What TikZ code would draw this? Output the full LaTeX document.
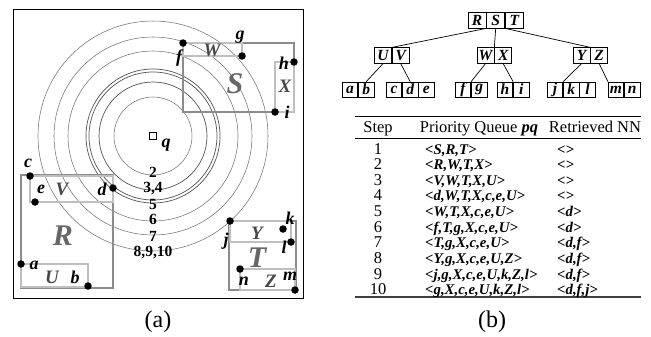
\documentclass[tikz,border=0pt]{standalone}
\usepackage{fontspec}
\setmainfont{Liberation Serif}
\usetikzlibrary{positioning}
\colorlet{mbr colour}{black!45}
\colorlet{leaf colour}{black!25}
\colorlet{ring colour}{black!55}
\colorlet{entry colour}{black!72}
\tikzset{
    % Shapes of the data space
    frame/.style={draw, line width=0.8bp},
    mbr/.style={draw=mbr colour, line width=1.2bp},
    leaf mbr/.style={draw=leaf colour, line width=1.7bp},
    ring/.style={draw=ring colour, line width=0.55bp},
    dark ring/.style={draw=black!68, line width=0.7bp},
    point/.style={fill, circle, inner sep=0pt, minimum size=7.5bp},
    query/.style={
        draw, rectangle, inner sep=0pt, minimum size=6.5bp, line width=0.6bp},
%
    % Text in the data space
    point label/.style={
        inner sep=0pt, font=\fontsize{18bp}{18bp}\selectfont\bfseries\itshape},
    entry label/.style={
        inner sep=0pt, text=entry colour,
        font=\fontsize{19bp}{19bp}\selectfont\bfseries\itshape},
    node label/.style={
        inner sep=0pt, text=black!60,
        font=\fontsize{30bp}{30bp}\selectfont\bfseries\itshape},
    radius label/.style={
        inner sep=0pt, font=\fontsize{15.5bp}{15.5bp}\selectfont\bfseries},
%
    % The R-tree
    cell/.style={
        draw, rectangle, line width=0.7bp, inner sep=0pt,
        minimum width=18bp, minimum height=16bp,
        font=\fontsize{15.5bp}{15.5bp}\selectfont\bfseries\itshape},
    inner cell/.style={cell, minimum width=17bp, minimum height=15.5bp},
    leaf cell/.style={cell, minimum width=15.5bp, minimum height=15bp},
    branch/.style={draw, line width=0.7bp},
%
    % The table
    table text/.style={
        inner sep=0pt, anchor=base, font=\fontsize{16.5bp}{16.5bp}\selectfont},
    queue text/.style={
        table text, anchor=base west,
        font=\fontsize{14.8bp}{14.8bp}\selectfont\bfseries\itshape},
    caption/.style={font=\fontsize{24bp}{24bp}\selectfont},
}

\begin{document}
\begin{tikzpicture}[x=1bp, y=-1bp]
\useasboundingbox (0,0) rectangle (651,336);

% (a) the data space
\draw [frame] (13,9) rectangle (303,298);
\node [query] (q) at (153,136) {};
\node [point label] (lbl q) at (166,145) {q};

\draw [ring] (q) circle [radius=39];
\draw [dark ring] (q) circle [radius=54];
\draw [dark ring] (q) circle [radius=64];
\draw [dark ring] (q) circle [radius=67];
\draw [ring] (q) circle [radius=85];
\draw [ring] (q) circle [radius=99];
\draw [ring] (q) circle [radius=115];

\path
    (153,172.5) node [radius label] (dist 2) {2}
    (153,189) node [radius label] (dist 34) {3,4}
    (153,204) node [radius label] (dist 5) {5}
    (153,219.5) node [radius label] (dist 6) {6}
    (153,236) node [radius label] (dist 7) {7}
    (153,253) node [radius label] (dist 8910) {8,9,10};

% node S with entries W and X
\draw [mbr] (183,43) rectangle (294,112);
\draw [leaf mbr] (183,43) rectangle (242,56);
\draw [leaf mbr] (275,62) rectangle (294,112);
\path
    (183,43) node [point] (pt f) {}
    (242,56) node [point] (pt g) {}
    (294,62) node [point] (pt h) {}
    (275,112) node [point] (pt i) {}
    (179,58) node [point label] (lbl f) {f}
    (240,37) node [point label] (lbl g) {g}
    (284,63) node [point label] (lbl h) {h}
    (287,112) node [point label] (lbl i) {i}
    (212,50) node [entry label] (lbl W) {W}
    (285,86) node [entry label] (lbl X) {X}
    (235,84) node [node label] (lbl S) {S};

% node R with entries U and V
\draw [mbr] (21,175) rectangle (113,288);
\draw [leaf mbr] (30,176) rectangle (113,202);
\draw [leaf mbr] (21,264) rectangle (88,287);
\path
    (30,176) node [point] (pt c) {}
    (35,202) node [point] (pt e) {}
    (113,188) node [point] (pt d) {}
    (21,264) node [point] (pt a) {}
    (88,286) node [point] (pt b) {}
    (28,163) node [point label] (lbl c) {c}
    (41,189) node [point label] (lbl e) {e}
    (102,189) node [point label] (lbl d) {d}
    (34,265) node [point label] (lbl a) {a}
    (75,277) node [point label] (lbl b) {b}
    (62,189) node [entry label] (lbl V) {V}
    (52,277) node [entry label] (lbl U) {U}
    (63,236) node [node label] (lbl R) {R};

% node T with entries Y and Z
\draw [mbr] (229,221) rectangle (296,290);
\draw [leaf mbr] (230,221) rectangle (291,242);
\draw [leaf mbr] (240,269) rectangle (295,290);
\path
    (230,221) node [point] (pt j) {}
    (283,229) node [point] (pt k) {}
    (291,242) node [point] (pt l) {}
    (240,269) node [point] (pt n) {}
    (295,290) node [point] (pt m) {}
    (226,241) node [point label] (lbl j) {j}
    (290,218) node [point label] (lbl k) {k}
    (284,247) node [point label] (lbl l) {l}
    (244,281) node [point label] (lbl n) {n}
    (290,276) node [point label] (lbl m) {m}
    (257,233) node [entry label] (lbl Y) {Y}
    (271,281) node [entry label] (lbl Z) {Z}
    (257,258) node [node label] (lbl T) {T};

% (b) the R-tree
\node [cell] (cell R) at (477,20) {R};
\node [cell, right=0pt of cell R] (cell S) {S};
\node [cell, right=0pt of cell S] (cell T) {T};

\node [inner cell] (cell U) at (383,55.5) {U};
\node [inner cell, right=0pt of cell U] (cell V) {V};
\node [inner cell] (cell W) at (485.5,55.5) {W};
\node [inner cell, right=0pt of cell W] (cell X) {X};
\node [inner cell] (cell Y) at (581.5,55.5) {Y};
\node [inner cell, right=0pt of cell Y] (cell Z) {Z};

\node [leaf cell] (cell a) at (350,89.5) {a};
\node [leaf cell, right=0pt of cell a] (cell b) {b};
\node [leaf cell] (cell c) at (394,89.5) {c};
\node [leaf cell, right=0pt of cell c] (cell d) {d};
\node [leaf cell, right=0pt of cell d] (cell e) {e};
\node [leaf cell] (cell f) at (463,89.5) {f};
\node [leaf cell, right=0pt of cell f] (cell g) {g};
\node [leaf cell] (cell h) at (505,89.5) {h};
\node [leaf cell, right=0pt of cell h] (cell i) {i};
\node [leaf cell] (cell j) at (555,89.5) {j};
\node [leaf cell, right=0pt of cell j] (cell k) {k};
\node [leaf cell, right=0pt of cell k] (cell l) {l};
\node [leaf cell] (cell m) at (616,89.5) {m};
\node [leaf cell, right=0pt of cell m] (cell n) {n};

\draw [branch] (cell R.south east) -- (cell U.north east);
\draw [branch] (cell S.south) -- (cell W.north east);
\draw [branch] (cell T.south west) -- (cell Y.north east);
\draw [branch] (cell U.south) -- (cell b.north);
\draw [branch] (cell V.south) -- (cell d.north);
\draw [branch] (cell W.south) -- (cell f.north east);
\draw [branch] (cell X.south) -- (cell i.north west);
\draw [branch] (cell Y.south) -- (cell j.north east);
\draw [branch] (cell Z.south) -- (cell m.north west);

% (b) the search steps
\draw [line width=1bp] (355,116) -- (641,116);
\draw [line width=0.6bp] (355,138) -- (641,138);
\draw [line width=1.6bp, black!75] (355,297) -- (641,297);

\path
    (378,132) node [table text] (head step) {Step}
    (479,132) node [table text] (head queue) {Priority Queue \textbf{\textit{pq}}}
    (595,132) node [table text] (head nn) {Retrieved NN};

\path
    (378,154) node [table text] (step 1) {1}
    ++(0,15.65) node [table text] (step 2) {2}
    ++(0,15.65) node [table text] (step 3) {3}
    ++(0,15.65) node [table text] (step 4) {4}
    ++(0,15.65) node [table text] (step 5) {5}
    ++(0,15.65) node [table text] (step 6) {6}
    ++(0,15.65) node [table text] (step 7) {7}
    ++(0,15.65) node [table text] (step 8) {8}
    ++(0,15.65) node [table text] (step 9) {9}
    ++(0,15.65) node [table text] (step 10) {10};

\path
    (425,154) node [queue text] (queue 1) {<S,R,T>}
    ++(0,15.65) node [queue text] (queue 2) {<R,W,T,X>}
    ++(0,15.65) node [queue text] (queue 3) {<V,W,T,X,U>}
    ++(0,15.65) node [queue text] (queue 4) {<d,W,T,X,c,e,U>}
    ++(0,15.65) node [queue text] (queue 5) {<W,T,X,c,e,U>}
    ++(0,15.65) node [queue text] (queue 6) {<f,T,g,X,c,e,U>}
    ++(0,15.65) node [queue text] (queue 7) {<T,g,X,c,e,U>}
    ++(0,15.65) node [queue text] (queue 8) {<Y,g,X,c,e,U,Z>}
    ++(0,15.65) node [queue text] (queue 9) {<j,g,X,c,e,U,k,Z,l>}
    ++(0,15.65) node [queue text] (queue 10) {<g,X,c,e,U,k,Z,l>};

\path
    (557,154) node [queue text] (nn 1) {<>}
    ++(0,15.65) node [queue text] (nn 2) {<>}
    ++(0,15.65) node [queue text] (nn 3) {<>}
    ++(0,15.65) node [queue text] (nn 4) {<>}
    ++(0,15.65) node [queue text] (nn 5) {<d>}
    ++(0,15.65) node [queue text] (nn 6) {<d>}
    ++(0,15.65) node [queue text] (nn 7) {<d,f>}
    ++(0,15.65) node [queue text] (nn 8) {<d,f>}
    ++(0,15.65) node [queue text] (nn 9) {<d,f>}
    ++(0,15.65) node [queue text] (nn 10) {<d,f,j>};

% captions
\node [caption] (caption a) at (158,322) {(a)};
\node [caption] (caption b) at (492,322) {(b)};

\end{tikzpicture}
\end{document}
